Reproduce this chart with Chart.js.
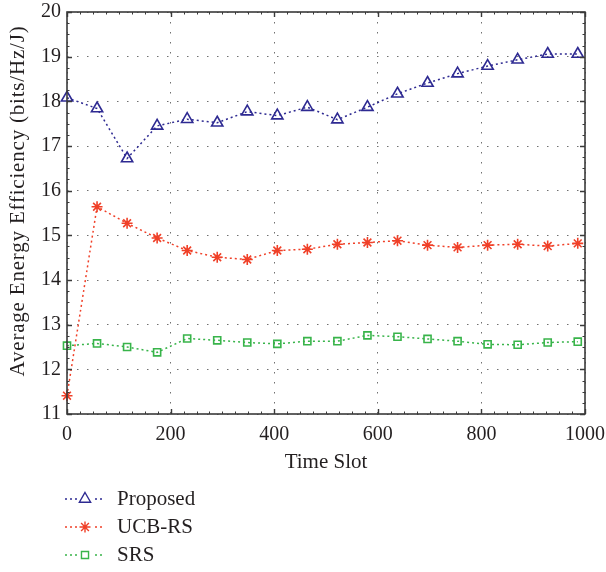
<!DOCTYPE html>
<html>
<head>
<meta charset="utf-8">
<script src="https://cdn.jsdelivr.net/npm/chart.js"></script>
<style>
  html, body { margin: 0; padding: 0; background: #fff; }
  #wrap { width: 606px; height: 572px; position: relative; }
</style>
</head>
<body>
<div id="wrap"><canvas id="chart" width="606" height="572"></canvas></div>
<script>
const timeSlots = [0, 58, 116, 174, 232, 290, 348, 406, 464, 522, 580, 638, 696, 754, 812, 870, 928, 986];
const proposed = [18.08, 17.84, 16.72, 17.45, 17.60, 17.52, 17.77, 17.68, 17.87, 17.59, 17.87, 18.17, 18.41, 18.62, 18.79, 18.93, 19.06, 19.06];
const ucbRs = [11.41, 15.64, 15.27, 14.94, 14.66, 14.51, 14.46, 14.66, 14.69, 14.80, 14.84, 14.88, 14.78, 14.73, 14.78, 14.80, 14.76, 14.82];
const srs = [12.53, 12.58, 12.50, 12.38, 12.69, 12.65, 12.60, 12.57, 12.63, 12.63, 12.76, 12.73, 12.68, 12.63, 12.56, 12.55, 12.60, 12.62];
const seriesNames = ["Proposed", "UCB-RS", "SRS"];
const xTicks = [0, 200, 400, 600, 800, 1000];
const yTicks = [11, 12, 13, 14, 15, 16, 17, 18, 19, 20];
const yTitle = "Average Energy Efficiency (bits/Hz/J)";

const FONT = "'Liberation Serif', 'DejaVu Serif', serif";
const TEXT = "#231f20";

function series(label, values, color, style, radius) {
  return {
    label: label,
    data: values.map((v, i) => ({ x: timeSlots[i], y: v })),
    borderColor: color,
    backgroundColor: "rgba(0,0,0,0)",
    borderWidth: 1.5,
    borderDash: [2, 3],
    pointStyle: style,
    pointRadius: radius,
    pointHoverRadius: radius,
    pointBorderWidth: 1.6,
    pointBorderColor: color,
    pointBackgroundColor: "rgba(0,0,0,0)",
    tension: 0,
    fill: false,
    clip: false
  };
}

// box, inward ticks, y title and the hand-made legend
const framePlugin = {
  id: "frame",
  afterDraw(c) {
    const ctx = c.ctx;
    const a = c.chartArea;
    const xs = c.scales.x, ys = c.scales.y;
    ctx.save();
    ctx.setLineDash([]);
    ctx.strokeStyle = "#3a3a3a";
    ctx.lineWidth = 1;
    // minor ticks
    for (let v = 0; v <= 1000; v += 25) {
      const px = Math.round(xs.getPixelForValue(v)) + 0.5;
      ctx.beginPath();
      ctx.moveTo(px, a.bottom); ctx.lineTo(px, a.bottom - 2.5);
      ctx.moveTo(px, a.top); ctx.lineTo(px, a.top + 2.5);
      ctx.stroke();
    }
    for (let v = 11; v <= 20.001; v += 0.25) {
      const py = Math.round(ys.getPixelForValue(v)) + 0.5;
      ctx.beginPath();
      ctx.moveTo(a.left, py); ctx.lineTo(a.left + 2.5, py);
      ctx.moveTo(a.right, py); ctx.lineTo(a.right - 2.5, py);
      ctx.stroke();
    }
    // major ticks
    ctx.lineWidth = 1.4;
    xTicks.forEach(v => {
      const px = Math.round(xs.getPixelForValue(v)) + 0.5;
      ctx.beginPath();
      ctx.moveTo(px, a.bottom); ctx.lineTo(px, a.bottom - 5);
      ctx.moveTo(px, a.top); ctx.lineTo(px, a.top + 5);
      ctx.stroke();
    });
    yTicks.forEach(v => {
      const py = Math.round(ys.getPixelForValue(v)) + 0.5;
      ctx.beginPath();
      ctx.moveTo(a.left, py); ctx.lineTo(a.left + 5, py);
      ctx.moveTo(a.right, py); ctx.lineTo(a.right - 5, py);
      ctx.stroke();
    });
    // box
    ctx.lineWidth = 1.6;
    ctx.strokeRect(a.left, a.top, a.right - a.left, a.bottom - a.top);

    // y title
    ctx.save();
    ctx.translate(18, 201);
    ctx.rotate(-Math.PI / 2);
    ctx.fillStyle = TEXT;
    ctx.font = "21px " + FONT;
    ctx.letterSpacing = "0.8px";
    ctx.textAlign = "center";
    ctx.textBaseline = "middle";
    ctx.fillText(yTitle, 0, 0);
    ctx.restore();

    // legend
    const rowsY = [499, 527, 555];
    c.data.datasets.forEach((ds, i) => {
      const y = rowsY[i];
      ctx.save();
      ctx.strokeStyle = ds.borderColor;
      ctx.lineWidth = 1.4;
      ctx.setLineDash([2, 3]);
      ctx.beginPath();
      ctx.moveTo(65, y); ctx.lineTo(105, y);
      ctx.stroke();
      ctx.setLineDash([]);
      ctx.fillStyle = "#fff";
      ctx.fillRect(85 - 8, y - 8, 16, 16);
      ctx.strokeStyle = ds.pointBorderColor;
      ctx.fillStyle = "rgba(0,0,0,0)";
      Chart.helpers.drawPoint(ctx, {
        pointStyle: ds.pointStyle,
        radius: ds.pointRadius,
        rotation: 0,
        borderWidth: ds.pointBorderWidth
      }, 85, y);
      ctx.restore();
      ctx.fillStyle = TEXT;
      ctx.font = "21px " + FONT;
      ctx.textBaseline = "middle";
      ctx.textAlign = "left";
      ctx.fillText(seriesNames[i], 117, y);
    });
    ctx.restore();
  }
};

new Chart(document.getElementById("chart"), {
  type: "line",
  data: {
    datasets: [
      series(seriesNames[0], proposed, "#2e2a92", "triangle", 6.5),
      series(seriesNames[1], ucbRs, "#f04028", "star", 5.5),
      series(seriesNames[2], srs, "#38b44a", "rect", 5)
    ]
  },
  options: {
    responsive: false,
    animation: false,
    events: [],
    layout: { padding: { left: 0, top: 12, right: 21, bottom: 98 } },
    plugins: { legend: { display: false }, tooltip: { enabled: false } },
    scales: {
      x: {
        type: "linear",
        min: 0,
        max: 1000,
        afterFit: s => { s.height = 60; s.paddingLeft = 0; s.paddingRight = 0; },
        afterBuildTicks: s => { s.ticks = xTicks.map(v => ({ value: v })); },
        ticks: { color: TEXT, font: { family: FONT, size: 20 }, padding: 9, maxRotation: 0, callback: v => String(v) },
        grid: { color: "#707070", lineWidth: 1, drawTicks: false },
        border: { display: false, dash: [1.5, 8.5] },
        title: { display: true, text: "Time Slot", color: TEXT, font: { family: FONT, size: 21 }, padding: { top: 0, bottom: -1 } }
      },
      y: {
        min: 11,
        max: 20,
        afterFit: s => { s.width = 67; s.paddingTop = 0; s.paddingBottom = 0; },
        afterBuildTicks: s => { s.ticks = yTicks.map(v => ({ value: v })); },
        ticks: { color: TEXT, font: { family: FONT, size: 20 }, padding: 6, callback: v => String(v) },
        grid: { color: "#707070", lineWidth: 1, drawTicks: false },
        border: { display: false, dash: [1.5, 8.5] },
        title: { display: false }
      }
    }
  },
  plugins: [framePlugin]
});
</script>
</body>
</html>
